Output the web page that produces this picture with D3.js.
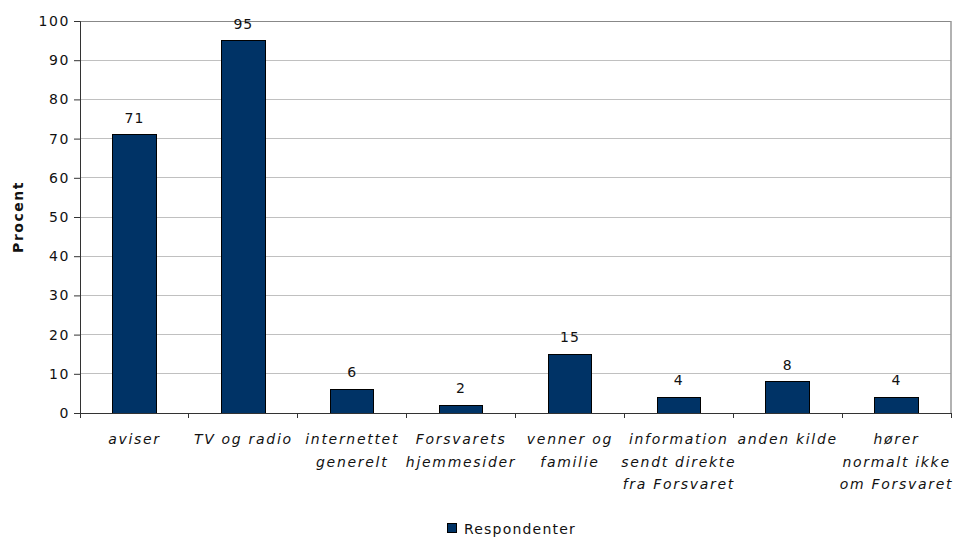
<!DOCTYPE html>
<html><head><meta charset="utf-8">
<script src="https://cdn.jsdelivr.net/npm/d3@7"></script>
<style>
body{margin:0;background:#fff;}
text{font-family:"DejaVu Sans",Verdana,sans-serif;fill:#111;}
</style></head>
<body><svg id="c" width="958" height="538"></svg>
<script>
const categories = [
  ["aviser"],
  ["TV og radio"],
  ["internettet","generelt"],
  ["Forsvarets","hjemmesider"],
  ["venner og","familie"],
  ["information","sendt direkte","fra Forsvaret"],
  ["anden kilde"],
  ["hører","normalt ikke","om Forsvaret"]
];
const values = [71, 95, 6, 2, 15, 4, 8, 4];
const yTicks = [0,10,20,30,40,50,60,70,80,90,100];
const seriesName = "Respondenter";
const yTitle = "Procent";

const svg = d3.select("#c");
const m = {l:80, r:951, t:21, b:413};
const ids = categories.map((d,i)=>i);
const x = d3.scaleBand().domain(ids).range([m.l, m.r]).paddingInner(0.6).paddingOuter(0.3);
const xb = d3.scaleLinear().domain([0, categories.length]).range([m.l, m.r]);
const y = d3.scaleLinear().domain([0,100]).range([m.b, m.t]);

// gridlines
svg.append("g").selectAll("line").data(yTicks.filter(t=>t>0&&t<100)).join("line")
  .attr("x1", m.l).attr("x2", m.r).attr("y1", d=>y(d)).attr("y2", d=>y(d))
  .attr("stroke", "#c0c0c0").attr("stroke-width", 1).attr("shape-rendering","crispEdges");
// frame top & right
svg.append("line").attr("x1", m.l).attr("x2", m.r).attr("y1", y(100)).attr("y2", y(100))
  .attr("stroke","#888").attr("shape-rendering","crispEdges");
svg.append("line").attr("x1", m.r).attr("x2", m.r).attr("y1", m.t).attr("y2", m.b)
  .attr("stroke","#999").attr("stroke-width",1.5);

// bars
svg.append("g").selectAll("rect").data(values).join("rect")
  .attr("x", (d,i)=>x(i)).attr("width", x.bandwidth())
  .attr("y", d=>y(d)).attr("height", d=>y(0)-y(d))
  .attr("fill","#003366").attr("stroke","#000").attr("stroke-width",1)
  .attr("shape-rendering","crispEdges");

// value labels
svg.append("g").selectAll("text").data(values).join("text")
  .attr("x", (d,i)=>x(i)+x.bandwidth()/2).attr("y", d=>y(d)-12)
  .attr("text-anchor","middle").attr("font-size",14).attr("letter-spacing",1)
  .text(d=>d);

// y axis
const ya = svg.append("g").attr("transform",`translate(${m.l},0)`)
  .call(d3.axisLeft(y).tickValues(yTicks).tickSize(6).tickPadding(4));
ya.select(".domain").attr("stroke","#333");
ya.selectAll(".tick line").attr("stroke","#333");
ya.selectAll("text").attr("font-size",14).attr("letter-spacing",1.6)
  .attr("font-family","DejaVu Sans, sans-serif").attr("fill","#111");

// x axis (boundary ticks)
svg.append("line").attr("x1", m.l).attr("x2", m.r).attr("y1", m.b).attr("y2", m.b)
  .attr("stroke","#333").attr("shape-rendering","crispEdges");
svg.append("g").selectAll("line").data(d3.range(categories.length+1)).join("line")
  .attr("x1", d=>xb(d)).attr("x2", d=>xb(d)).attr("y1", m.b).attr("y2", m.b+5)
  .attr("stroke","#333").attr("shape-rendering","crispEdges");

// category labels
const cl = svg.append("g").selectAll("text").data(categories).join("text")
  .attr("text-anchor","middle").attr("font-size",14).attr("font-style","italic")
  .attr("letter-spacing",1.7);
cl.each(function(lines,i){
  const t = d3.select(this);
  lines.forEach((ln,j)=>{
    t.append("tspan").attr("x", x(i)+x.bandwidth()/2).attr("y", 444 + j*22.5).text(ln);
  });
});

// y title
svg.append("text").attr("transform",`translate(23,${(m.t+m.b)/2}) rotate(-90)`)
  .attr("text-anchor","middle").attr("font-size",14).attr("font-weight","bold")
  .attr("letter-spacing",1.5).text(yTitle);

// legend
svg.append("rect").attr("x",447.5).attr("y",523.5).attr("width",9).attr("height",9)
  .attr("fill","#003366").attr("stroke","#000");
svg.append("text").attr("x",464).attr("y",534).attr("font-size",14).attr("letter-spacing",1.2)
  .text(seriesName);
</script></body></html>
